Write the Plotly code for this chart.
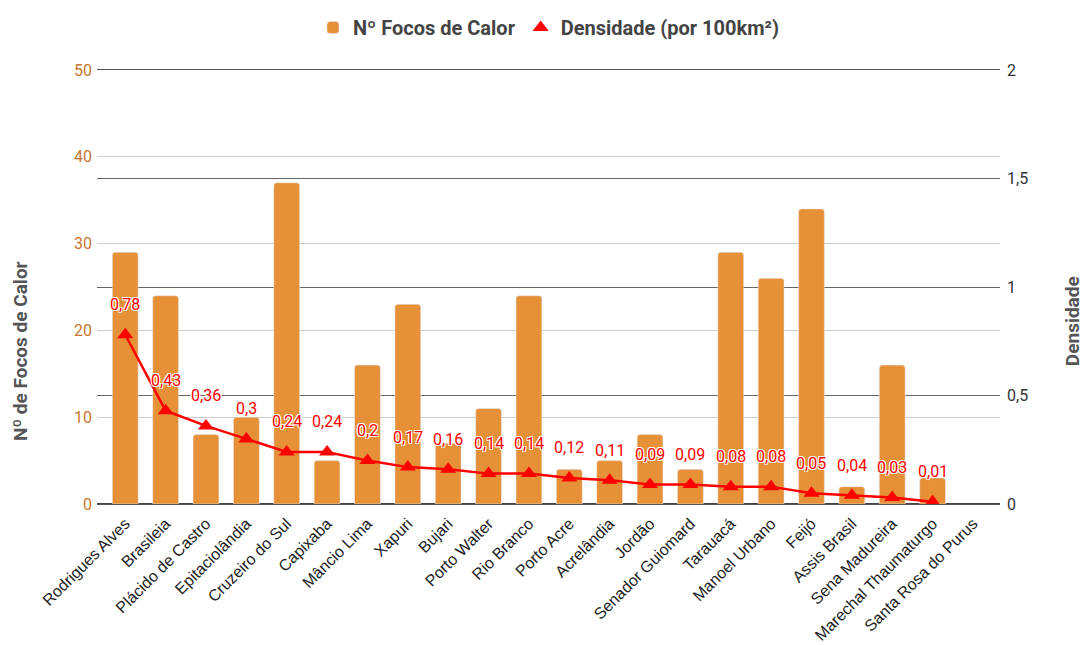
import plotly.graph_objects as go

municipios = ["Rodrigues Alves", "Brasileia", "Plácido de Castro", "Epitaciolândia",
              "Cruzeiro do Sul", "Capixaba", "Mâncio Lima", "Xapuri", "Bujari",
              "Porto Walter", "Rio Branco", "Porto Acre", "Acrelândia", "Jordão",
              "Senador Guiomard", "Tarauacá", "Manoel Urbano", "Feijó", "Assis Brasil",
              "Sena Madureira", "Marechal Thaumaturgo", "Santa Rosa do Purus"]
focos = [29, 24, 8, 10, 37, 5, 16, 23, 7, 11, 24, 4, 5, 8, 4, 29, 26, 34, 2, 16, 3, None]
densidade = [0.78, 0.43, 0.36, 0.3, 0.24, 0.24, 0.2, 0.17, 0.16, 0.14, 0.14, 0.12,
             0.11, 0.09, 0.09, 0.08, 0.08, 0.05, 0.04, 0.03, 0.01, None]
left_ticks = [0, 10, 20, 30, 40, 50]
right_ticks = [0, 0.5, 1, 1.5, 2]

BAR = "#e69138"
RED = "#ff0000"

fig = go.Figure()
fig.add_trace(go.Bar(x=municipios, y=focos, name="Nº Focos de Calor",
                     marker=dict(color=BAR, cornerradius=3), yaxis="y"))
fig.add_trace(go.Scatter(x=municipios, y=densidade, name="Densidade (por 100km²)",
                         mode="lines+markers", yaxis="y2", showlegend=False,
                         line=dict(color=RED, width=2.5),
                         marker=dict(symbol="triangle-up", size=14, color=RED)))
# legend entry: marker only, as in the reference
fig.add_trace(go.Scatter(x=[None], y=[None], name="Densidade (por 100km²)",
                         mode="markers", yaxis="y2",
                         marker=dict(symbol="triangle-up", size=14, color=RED)))

shadow = "white 1px 1px 0px, white -1px -1px 0px, white 1px -1px 0px, white -1px 1px 0px"
for m, d in zip(municipios, densidade):
    if d is None:
        continue
    txt = f"{d:g}".replace(".", ",")
    fig.add_annotation(x=m, y=d, xref="x", yref="y2", text=txt, showarrow=False,
                       yshift=30, font=dict(family="Roboto", size=16, color=RED, shadow=shadow))

title_font = dict(family="Roboto", size=19, color="#555", weight="bold")
fig.add_annotation(text="Nº de Focos de Calor", xref="paper", yref="paper",
                   x=-0.0853, y=0.3525, xanchor="center", yanchor="middle",
                   textangle=-90, showarrow=False, font=title_font)
fig.add_annotation(text="Densidade", xref="paper", yref="paper",
                   x=1.081, y=0.4217, xanchor="center", yanchor="middle",
                   textangle=-90, showarrow=False, font=title_font)

fig.update_layout(
    width=1080, height=637,
    margin=dict(l=89, r=88, t=62, b=141, autoexpand=False),
    plot_bgcolor="white", paper_bgcolor="white",
    separators=",.",
    bargap=0.36,
    font=dict(family="Roboto", color="#444"),
    legend=dict(orientation="h", x=0.5, xanchor="center", y=1.0, yref="container",
                yanchor="top", font=dict(family="Roboto", size=20, color="#444", weight="bold"),
                traceorder="normal", itemwidth=30),
    xaxis=dict(type="category", categoryarray=municipios, range=[-0.7, 21.67],
               tickangle=-45, showgrid=False, ticks="", automargin=False,
               showline=True, mirror=True, linecolor="#555", linewidth=1.2,
               ticklabelstandoff=3,
               tickfont=dict(family="Liberation Sans, Arial", size=16, color="#222")),
    yaxis=dict(range=[0, 50], tickvals=left_ticks, showgrid=True, gridcolor="#cccccc",
               gridwidth=1, zeroline=True, zerolinecolor="#444", zerolinewidth=1.5,
               automargin=False, ticklabelstandoff=4,
               tickfont=dict(family="Roboto", size=16, color="#c8762f"), ticks=""),
    yaxis2=dict(range=[0, 2], tickvals=right_ticks, overlaying="y", side="right",
                showgrid=True, gridcolor="#666666", gridwidth=1, zeroline=True,
                zerolinecolor="#444", automargin=False, ticklabelstandoff=6,
                tickfont=dict(family="Roboto", size=16, color="#333"), ticks=""),
)

fig.write_html("out.html")
